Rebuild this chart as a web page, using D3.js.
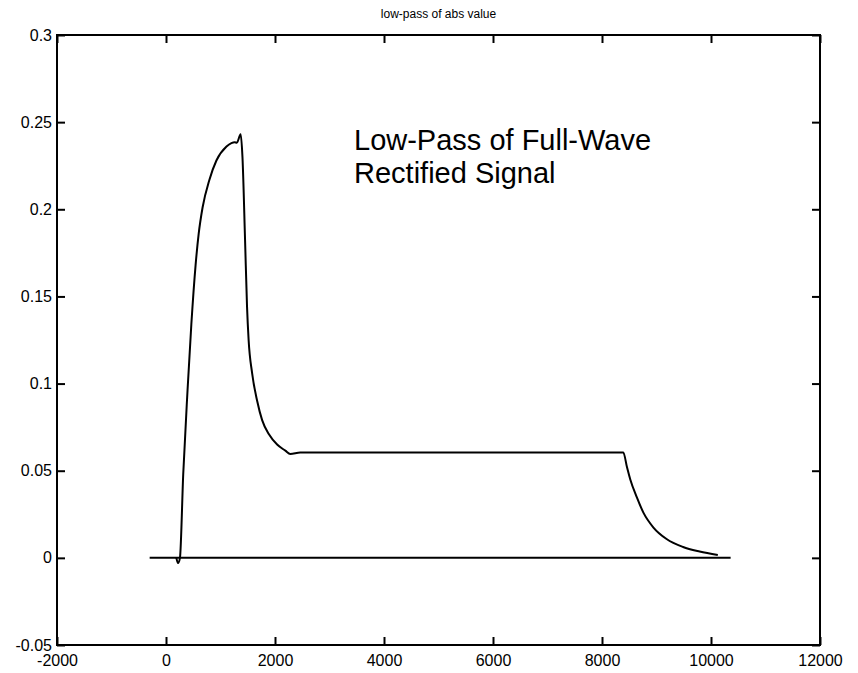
<!DOCTYPE html>
<html>
<head>
<meta charset="utf-8">
<script src="https://d3js.org/d3.v7.min.js"></script>
<style>
body { margin:0; background:#fff; }
text { font-family: "Liberation Sans", Arial, Helvetica, sans-serif; fill:#000; }
</style>
</head>
<body>
<svg id="chart"></svg>
<script>

var titleText = "low-pass of abs value"
var noteLines = ["Low-Pass of Full-Wave", "Rectified Signal"]

var xTicks = [-2000, 0, 2000, 4000, 6000, 8000, 10000, 12000]
var yTicks = [-0.05, 0, 0.05, 0.1, 0.15, 0.2, 0.25, 0.3]
var yTickLabels = ["-0.05", "0", "0.05", "0.1", "0.15", "0.2", "0.25", "0.3"]

// low-pass curve
var curveX = [190, 220, 256, 316, 395, 465, 543, 600, 671, 797, 925, 1110, 1200, 1260, 1300, 1370,
              1403, 1451, 1487, 1516, 1580, 1673, 1764, 1886, 2039, 2190, 2281, 2463,
              8390, 8459, 8519, 8640, 8762, 8944, 9185, 9488, 9791, 10125]
var curveY = [0, -0.003, 0, 0.048, 0.096, 0.134, 0.168, 0.186, 0.201, 0.217, 0.228, 0.236, 0.238, 0.2385, 0.2382, 0.243,
              0.230, 0.182, 0.144, 0.125, 0.106, 0.090, 0.079, 0.071, 0.065, 0.0615, 0.0596, 0.0605,
              0.0605, 0.052, 0.045, 0.0347, 0.0258, 0.0174, 0.0108, 0.0062, 0.0036, 0.0016]

// flat zero trace
var zeroX = [-300, 10360]
var zeroY = [0, 0]

var screen = {width:858, height:673}
var margins = {top:35, bottom:28, left:57, right:38}
var graph = {
    width: screen.width-margins.left-margins.right,
    height: screen.height-margins.top-margins.bottom}

var svg = d3.select("#chart")
    .attr("width", screen.width)
    .attr("height", screen.height)

var xScale = d3.scaleLinear()
    .domain([-2000, 12000])
    .range([0, graph.width])

var yScale = d3.scaleLinear()
    .domain([-0.05, 0.3])
    .range([graph.height, 0])

var g = svg.append("g")
    .attr("transform", "translate("+margins.left+","+margins.top+")")

var lineGenerator = d3.line()
    .x(function(d) { return xScale(d[0]) })
    .y(function(d) { return yScale(d[1]) })
    .curve(d3.curveMonotoneX)

g.append("path")
    .datum(zeroX.map(function(x, i) { return [x, zeroY[i]] }))
    .attr("d", lineGenerator)
    .attr("fill", "none")
    .attr("stroke", "#000")
    .attr("stroke-width", 2)

g.append("path")
    .datum(curveX.map(function(x, i) { return [x, curveY[i]] }))
    .attr("d", lineGenerator)
    .attr("fill", "none")
    .attr("stroke", "#000")
    .attr("stroke-width", 2)
    .attr("stroke-linejoin", "round")

// axes with inward ticks on all four sides
var tickLen = 8
var styleAxis = function(sel)
{
    sel.select(".domain").remove()
    sel.selectAll("line").attr("stroke", "#000").attr("stroke-width", 2)
    sel.selectAll("text")
        .style("font-size", "16px")
        .style("font-family", "'Liberation Sans', Arial, sans-serif")
}

var axisB = g.append("g")
    .attr("transform", "translate(0,"+graph.height+")")
    .call(d3.axisBottom(xScale).tickValues(xTicks).tickSizeInner(-tickLen).tickSizeOuter(0).tickPadding(10)
        .tickFormat(function(d) { return d }))
styleAxis(axisB)

var axisT = g.append("g")
    .call(d3.axisTop(xScale).tickValues(xTicks).tickSizeInner(-tickLen).tickSizeOuter(0).tickFormat(""))
styleAxis(axisT)

var axisL = g.append("g")
    .call(d3.axisLeft(yScale).tickValues(yTicks).tickSizeInner(-tickLen).tickSizeOuter(0).tickPadding(5)
        .tickFormat(function(d, i) { return yTickLabels[i] }))
styleAxis(axisL)

var axisR = g.append("g")
    .attr("transform", "translate("+graph.width+",0)")
    .call(d3.axisRight(yScale).tickValues(yTicks).tickSizeInner(-tickLen).tickSizeOuter(0).tickFormat(""))
styleAxis(axisR)

g.append("rect")
    .attr("width", graph.width)
    .attr("height", graph.height)
    .attr("fill", "none")
    .attr("stroke", "#000")
    .attr("stroke-width", 2)

svg.append("text")
    .text(titleText)
    .attr("x", margins.left+graph.width/2)
    .attr("y", 18)
    .attr("text-anchor", "middle")
    .style("font-size", "12px")

var note = g.append("text")
    .attr("x", xScale(3450))
    .attr("y", yScale(0.234))
    .style("font-size", "29px")

note.selectAll("tspan")
    .data(noteLines)
    .enter()
    .append("tspan")
    .attr("x", xScale(3450))
    .attr("dy", function(d, i) { return i == 0 ? 0 : 33 })
    .text(function(d) { return d })

</script>
</body>
</html>
